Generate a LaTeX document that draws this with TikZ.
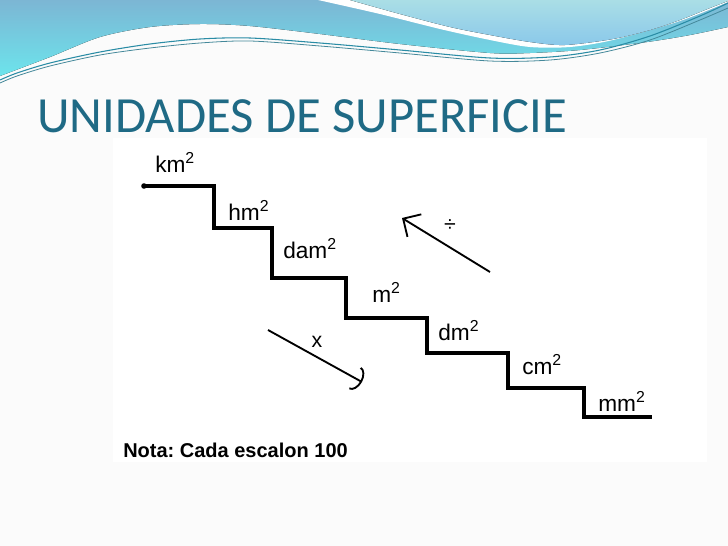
\documentclass[tikz,border=0pt]{standalone}
\usepackage{fontspec}
\setmainfont{Liberation Sans}
\newfontfamily\titlefont{Carlito}
\usetikzlibrary{arrows.meta}
\frenchspacing
\definecolor{titleteal}{RGB}{31,106,133}
\definecolor{bandtop}{RGB}{124,182,212}
\definecolor{bandbot}{RGB}{108,228,236}
\definecolor{lighttop}{RGB}{170,222,230}
\definecolor{lightbot}{RGB}{138,200,234}
\definecolor{waveteal}{RGB}{42,140,165}
\definecolor{slidebg}{RGB}{251,251,251}
\begin{document}
\begin{tikzpicture}[x=0.75pt,y=-0.75pt,
  stair/.style={line width=3.6pt,line join=miter},
  unit/.style={anchor=base west,inner sep=0pt,font=\fontsize{17}{20}\selectfont},
  opnote/.style={inner sep=0pt,font=\fontsize{16}{18}\selectfont},
  oparrow/.style={line width=1.4pt}]
  \useasboundingbox (0,0) rectangle (728,546);
  % slide background and header wave
  \fill[slidebg] (0,0) rectangle (728,546);
  \fill[top color=bandtop,bottom color=bandbot] (0,0) -- plot[smooth] coordinates
    {(0,76) (50,57) (100,37) (150,27) (200,24) (250,26) (320,34) (400,44) (490,53) (530,53) (580,50) (647,42) (690,35) (728,27)}
    -- (728,0) -- cycle;
  \fill[white] (318,0) -- plot[smooth] coordinates
    {(318,0) (380,14) (440,29) (490,40) (530,47) (570,47) (613,40) (680,21) (728,2)} -- (728,0) -- cycle;
  \fill[top color=lighttop,bottom color=lightbot] (350,0) -- plot[smooth] coordinates
    {(350,0) (400,14) (450,27) (490,35) (530,42) (565,45) (613,39) (650,30) (680,20) (710,8) (728,1)} -- (728,0) -- cycle;
  \draw[waveteal,line width=0.8pt] plot[smooth] coordinates
    {(0,80) (17,73) (50,63) (100,52) (150,44) (200,39) (250,38) (320,43) (400,50) (490,58) (550,57) (600,50) (650,36) (700,16) (728,3)};
  \draw[waveteal!70!gray,line width=0.6pt] plot[smooth] coordinates
    {(0,83) (17,76) (50,66) (100,55) (150,48) (200,43) (250,41) (320,46) (400,53) (490,61) (550,60) (600,53) (650,40) (700,20) (728,8)};
  \node[anchor=base west,inner sep=0pt,text=titleteal,font=\titlefont\fontsize{38}{44}\selectfont]
    (title) at (37,132) {UNIDADES DE SUPERFICIE};
  % picture of the stairs
  \fill[white] (113,138) rectangle (707,462);
  \draw[line width=2.5pt] (144,186) -- (214,186);
  \fill (144,186) circle (2.8);
  \draw[stair] (212.5,186) -- (214,186) -- (214,228) -- (272,228) -- (272,278) -- (346,278)
    -- (346,318) -- (427,318) -- (427,353) -- (508,353) -- (508,388) -- (584,388)
    -- (584,417) -- (652,417);
  \node[unit] (km) at (155,172) {km\textsuperscript{2}};
  \node[unit] (hm) at (228,220) {hm\textsuperscript{2}};
  \node[unit] (dam) at (283,258) {dam\textsuperscript{2}};
  \node[unit] (m) at (372,302) {m\textsuperscript{2}};
  \node[unit] (dm) at (438,340) {dm\textsuperscript{2}};
  \node[unit] (cm) at (522,374) {cm\textsuperscript{2}};
  \node[unit] (mm) at (598,411) {mm\textsuperscript{2}};
  % arrows
  \coordinate (divfrom) at (490,272);
  \coordinate (divto) at (402,218);
  \coordinate (mulfrom) at (268,330);
  \coordinate (multo) at (362,382);
  \draw[oparrow,-{Straight Barb[angle=90:14pt,line width=1.4pt]}] (divfrom) -- (divto);
  \draw[oparrow,-{Arc Barb[length=6pt,width=19pt,line width=1.4pt]}] (mulfrom) -- (multo);
  \node[opnote] (div) at (450,226) {÷};
  \node[opnote] (mul) at (317,342) {x};
  \node[anchor=base west,inner sep=0pt,font=\bfseries\fontsize{15}{18}\selectfont]
    (nota) at (123,457) {Nota: Cada escalon 100};
\end{tikzpicture}
\end{document}
